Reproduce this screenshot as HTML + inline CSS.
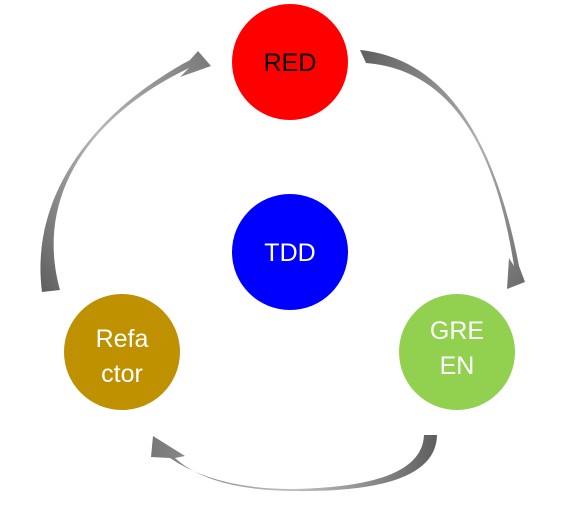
<!DOCTYPE html>
<html><head><style>
body{margin:0;background:#fff;width:574px;height:507px;overflow:hidden}
svg{display:block}
text{font-family:"Liberation Sans","DejaVu Sans",sans-serif;font-size:25px;text-anchor:middle}
</style></head><body>
<svg width="574" height="507" viewBox="0 0 574 507">
<defs>
<linearGradient id="g1" x1="0" y1="0" x2="1" y2="1"><stop offset="0" stop-color="#5e5e5e"/><stop offset="0.55" stop-color="#b0b0b0"/><stop offset="1" stop-color="#6a6a6a"/></linearGradient>
<linearGradient id="g2" x1="0" y1="1" x2="1" y2="0"><stop offset="0" stop-color="#5e5e5e"/><stop offset="0.5" stop-color="#b8b8b8"/><stop offset="1" stop-color="#777"/></linearGradient>
<linearGradient id="g3" x1="1" y1="0" x2="0" y2="0"><stop offset="0" stop-color="#5e5e5e"/><stop offset="0.5" stop-color="#c0c0c0"/><stop offset="1" stop-color="#777"/></linearGradient>
</defs>
<path d="M360,50 Q480,62 519,266 L525,282 L507,289 L509,258 L514,266 Q484,72 366,63 Z" fill="url(#g1)"/>
<path d="M42,292 C30,200 88,115 190,60 L198,51 L211,66 L180,77 L189,68 C85,118 35,200 60,290 Z" fill="url(#g2)"/>
<path d="M437,435 Q436,493 293,491 Q210,490 175,458 L185,456 L153,436 L151,457 L170,458 Q215,489 293,489 Q422,487 424,435 Z" fill="url(#g3)"/>
<circle cx="290" cy="62" r="58" fill="#ff0000"/>
<text x="290" y="71" fill="#000">RED</text>
<circle cx="290" cy="252" r="58" fill="#0000ff"/>
<text x="290" y="261" fill="#fff">TDD</text>
<circle cx="457" cy="352" r="58" fill="#92d050"/>
<text x="457" y="339" fill="#fff">GRE</text>
<text x="457" y="374" fill="#fff">EN</text>
<circle cx="122" cy="352" r="58" fill="#bf9000"/>
<text x="122" y="347" fill="#fff">Refa</text>
<text x="122" y="382" fill="#fff">ctor</text>
</svg>
</body></html>
